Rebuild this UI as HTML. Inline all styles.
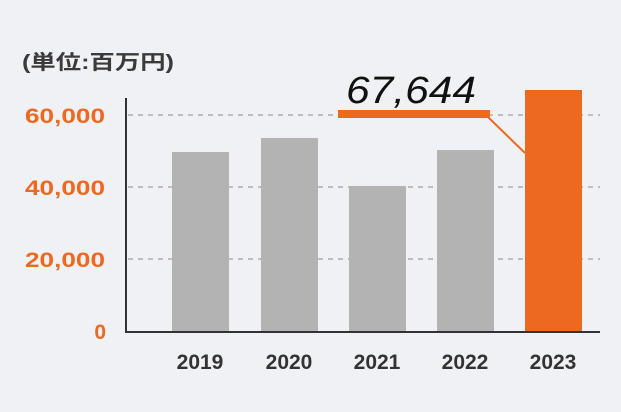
<!DOCTYPE html>
<html><head><meta charset="utf-8"><style>
html,body{margin:0;padding:0;background:#f0f1f5;}
svg{display:block}
</style></head><body>
<svg width="621" height="412" xmlns="http://www.w3.org/2000/svg">
<rect width="621" height="412" fill="#f0f1f5"/>
<text x="22" y="69" font-family="'Liberation Sans','Noto Sans CJK JP',sans-serif" font-size="20" font-weight="bold" fill="#3a3a3a" textLength="152" lengthAdjust="spacingAndGlyphs">(単位:百万円)</text>
<g stroke="#bdbdbd" stroke-width="2" stroke-dasharray="5,5">
<line x1="128" y1="115" x2="600" y2="115"/>
<line x1="128" y1="187" x2="600" y2="187"/>
<line x1="128" y1="259" x2="600" y2="259"/>
</g>
<g fill="#b3b3b3">
<rect x="172" y="152" width="57" height="180"/>
<rect x="261" y="138" width="57" height="194"/>
<rect x="349" y="186" width="57" height="146"/>
<rect x="437" y="150" width="57" height="182"/>
</g>
<rect x="525" y="90" width="57" height="242" fill="#ec691f"/>
<line x1="126" y1="98" x2="126" y2="333" stroke="#333" stroke-width="2"/>
<line x1="125" y1="332" x2="600" y2="332" stroke="#333" stroke-width="2"/>
<g font-family="'Liberation Sans',sans-serif" font-size="21" font-weight="bold" fill="#ec691f">
<text x="25" y="123" textLength="80" lengthAdjust="spacingAndGlyphs">60,000</text>
<text x="25" y="195" textLength="80" lengthAdjust="spacingAndGlyphs">40,000</text>
<text x="25" y="267" textLength="80" lengthAdjust="spacingAndGlyphs">20,000</text>
<text x="106" y="339" text-anchor="end">0</text>
</g>
<g font-family="'Liberation Sans',sans-serif" font-size="21" font-weight="bold" fill="#333" text-anchor="middle">
<text x="200" y="369">2019</text>
<text x="289" y="369">2020</text>
<text x="377" y="369">2021</text>
<text x="465" y="369">2022</text>
<text x="553" y="369">2023</text>
</g>
<rect x="338" y="110" width="152" height="8" fill="#ec691f"/>
<line x1="488" y1="117" x2="525" y2="153" stroke="#ec691f" stroke-width="2"/>
<text x="346" y="103" font-family="'Liberation Sans',sans-serif" font-size="38" font-style="italic" fill="#111" textLength="130" lengthAdjust="spacingAndGlyphs">67,644</text>
</svg>
</body></html>
